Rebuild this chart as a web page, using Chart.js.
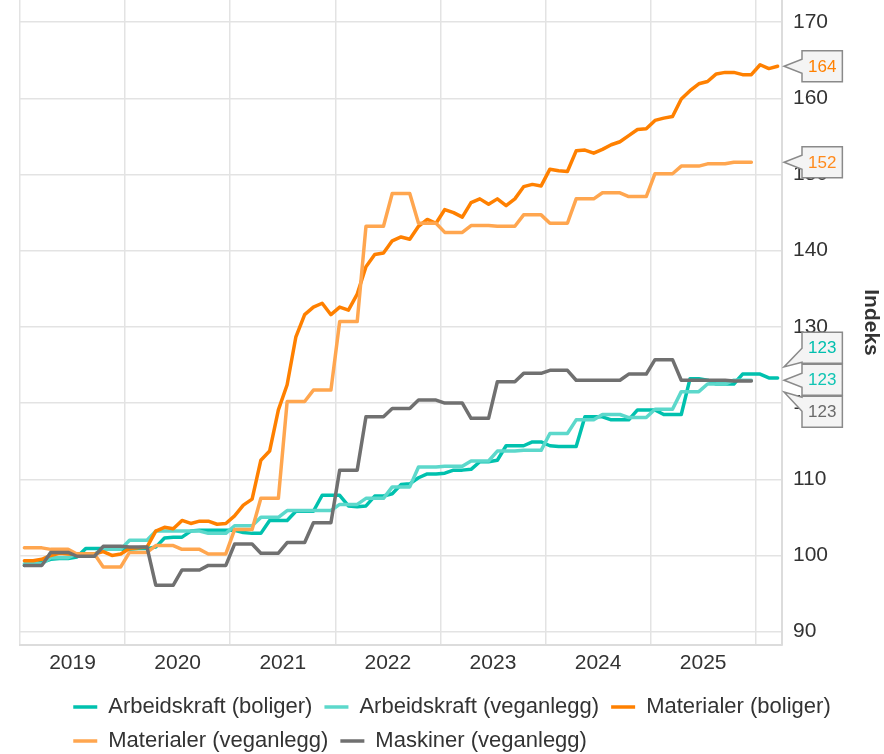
<!DOCTYPE html>
<html>
<head>
<meta charset="utf-8">
<script src="https://cdn.jsdelivr.net/npm/chart.js@4.4.1/dist/chart.umd.min.js"></script>
<style>
  html, body { margin: 0; padding: 0; background: #fff; overflow: hidden; }
</style>
</head>
<body>
<canvas id="myChart" width="884" height="754"></canvas>
<script>
// months from jan 2019, one value per month
const startYear = 2019;
const years = [2019, 2020, 2021, 2022, 2023, 2024, 2025];
const yTicks = [90, 100, 110, 120, 130, 140, 150, 160, 170];

const arbeidBoliger = [
    98.7, 98.9, 99.1, 99.5, 99.6, 99.6, 99.8, 100.9, 100.9, 100.9, 100.9, 100.8,
    100.8, 100.9, 100.9, 101.1, 102.3, 102.4, 102.4, 103.2, 103.3, 103.3, 103.3, 103.3,
    103.3, 103.0, 102.9, 102.9, 104.6, 104.6, 104.6, 105.8, 105.8, 105.8, 107.9, 107.9,
    107.9, 106.5, 106.4, 106.5, 107.8, 107.8, 108.1, 109.3, 109.4, 110.2, 110.7, 110.7,
    110.8, 111.2, 111.2, 111.3, 112.3, 112.3, 112.5, 114.4, 114.4, 114.4, 114.9, 114.9,
    114.4, 114.3, 114.3, 114.3, 118.2, 118.2, 118.2, 117.8, 117.8, 117.8, 119.1, 119.1,
    119.1, 118.5, 118.5, 118.5, 123.2, 123.2, 123.0, 122.5, 122.5, 122.5, 123.8, 123.8,
    123.8, 123.3, 123.3
];
const arbeidVeg = [
    98.9, 98.9, 98.9, 99.7, 99.7, 99.7, 100.2, 100.2, 100.2, 100.8, 100.8, 100.8,
    102.0, 102.0, 102.0, 103.2, 103.2, 103.2, 103.2, 103.2, 103.2, 102.9, 102.9, 102.9,
    103.9, 103.9, 103.9, 105.0, 105.0, 105.0, 105.9, 105.9, 105.9, 105.9, 105.9, 105.9,
    106.7, 106.7, 106.7, 107.5, 107.5, 107.5, 109.0, 109.0, 109.0, 111.6, 111.6, 111.6,
    111.7, 111.7, 111.7, 112.4, 112.4, 112.4, 113.7, 113.7, 113.7, 113.8, 113.8, 113.8,
    116.0, 116.0, 116.0, 117.8, 117.8, 117.8, 118.5, 118.5, 118.5, 118.1, 118.1, 118.1,
    119.2, 119.2, 119.2, 121.5, 121.5, 121.5, 122.5, 122.5, 122.5, 123.0, 123.0, 123.0
];
const matBoliger = [
    99.3, 99.3, 99.5, 100.0, 100.3, 100.2, 100.2, 100.2, 100.2, 100.5, 100.0, 100.2,
    100.9, 101.0, 101.1, 103.2, 103.7, 103.5, 104.6, 104.2, 104.5, 104.5, 104.1, 104.2,
    105.2, 106.6, 107.4, 112.5, 113.7, 119.1, 122.4, 128.7, 131.6, 132.6, 133.1, 131.6,
    132.6, 132.2, 134.3, 137.9, 139.5, 139.7, 141.3, 141.8, 141.5, 143.2, 144.1, 143.6,
    145.4, 145.0, 144.4, 146.3, 146.8, 146.1, 146.8, 145.9, 146.8, 148.4, 148.7, 148.5,
    150.7, 150.5, 150.4, 153.1, 153.2, 152.8, 153.3, 153.9, 154.3, 155.1, 155.9, 156.0,
    157.1, 157.4, 157.6, 159.9, 161.0, 161.9, 162.2, 163.2, 163.4, 163.4, 163.1, 163.1,
    164.4, 163.9, 164.2
];
const matVeg = [
    101.0, 101.0, 101.0, 100.8, 100.8, 100.8, 100.2, 100.2, 100.2, 98.5, 98.5, 98.5,
    100.4, 100.4, 100.4, 101.3, 101.3, 101.3, 100.8, 100.8, 100.8, 100.2, 100.2, 100.2,
    103.4, 103.4, 103.4, 107.5, 107.5, 107.5, 120.2, 120.2, 120.2, 121.7, 121.7, 121.7,
    130.7, 130.7, 130.7, 143.2, 143.2, 143.2, 147.5, 147.5, 147.5, 143.6, 143.6, 143.6,
    142.4, 142.4, 142.4, 143.3, 143.3, 143.3, 143.2, 143.2, 143.2, 144.7, 144.7, 144.7,
    143.6, 143.6, 143.6, 146.8, 146.8, 146.8, 147.6, 147.6, 147.6, 147.1, 147.1, 147.1,
    150.1, 150.1, 150.1, 151.1, 151.1, 151.1, 151.4, 151.4, 151.4, 151.6, 151.6, 151.6
];
const maskinerVeg = [
    98.7, 98.7, 98.7, 100.4, 100.4, 100.4, 99.9, 99.9, 99.9, 101.2, 101.2, 101.2,
    101.1, 101.1, 101.1, 96.1, 96.1, 96.1, 98.1, 98.1, 98.1, 98.7, 98.7, 98.7,
    101.5, 101.5, 101.5, 100.3, 100.3, 100.3, 101.7, 101.7, 101.7, 104.3, 104.3, 104.3,
    111.2, 111.2, 111.2, 118.2, 118.2, 118.2, 119.3, 119.3, 119.3, 120.4, 120.4, 120.4,
    120.0, 120.0, 120.0, 118.0, 118.0, 118.0, 122.8, 122.8, 122.8, 123.9, 123.9, 123.9,
    124.3, 124.3, 124.3, 123.0, 123.0, 123.0, 123.0, 123.0, 123.0, 123.8, 123.8, 123.8,
    125.7, 125.7, 125.7, 123.0, 123.0, 123.0, 123.0, 123.0, 123.0, 122.9, 122.9, 122.9
];

// monthly value -> point in the middle of the month
const toPoints = arr => arr.map((v, i) => ({ x: startYear + (i + 0.5) / 12, y: v }));

Chart.defaults.font.family = "'Liberation Sans', Arial, sans-serif";
Chart.defaults.color = '#333333';

// price-flag style labels at the right edge
const lastLabels = {
    id: 'lastLabels',
    afterDraw(chart) {
        const ctx = chart.ctx;
        const area = chart.chartArea;
        const yScale = chart.scales.y;
        const h = 31;
        const items = chart.data.datasets.map(ds => {
            const last = ds.data[ds.data.length - 1].y;
            return { text: String(Math.round(last)), color: ds.labelColor, anchor: yScale.getPixelForValue(last) };
        }).sort((a, b) => a.anchor - b.anchor);

        const groups = [];
        items.forEach(it => {
            const g = groups[groups.length - 1];
            if (g && it.anchor - g[g.length - 1].anchor < h) g.push(it);
            else groups.push([it]);
        });
        ctx.save();
        ctx.font = "17px 'Liberation Sans', Arial, sans-serif";
        ctx.textBaseline = 'middle';
        groups.forEach(g => {
            const mean = g.reduce((s, it) => s + it.anchor, 0) / g.length;
            g.forEach((it, k) => {
                const off = k - (g.length - 1) / 2;
                const cy = mean + off * (h + 1);
                const top = cy - h / 2, bottom = cy + h / 2;
                const left = area.right + 20;
                const w = ctx.measureText(it.text).width + 12;
                const tipX = area.right + 2;
                // spread the pointer tips a little when flags are stacked
                const tipY = it.anchor + off * 11;
                const bc = Math.min(Math.max(tipY, top + 8), bottom - 8);
                ctx.beginPath();
                ctx.moveTo(left, top);
                ctx.lineTo(left + w, top);
                ctx.lineTo(left + w, bottom);
                ctx.lineTo(left, bottom);
                ctx.lineTo(left, bc + 7);
                ctx.lineTo(tipX, tipY);
                ctx.lineTo(left, bc - 7);
                ctx.closePath();
                ctx.fillStyle = '#f4f4f4';
                ctx.fill();
                ctx.lineWidth = 1.5;
                ctx.strokeStyle = '#8a8a8a';
                ctx.stroke();
                ctx.fillStyle = it.color;
                ctx.fillText(it.text, left + 6, cy + 1);
            });
        });
        ctx.restore();
    }
};

// legend rows: second row starts under the first one, a bit lower
const legendShift = {
    id: 'legendShift',
    afterLayout(chart) {
        const lg = chart.legend;
        if (!lg) return;
        lg.top += 8;
        lg.bottom += 8;
        if (lg.lineWidths && lg.lineWidths.length > 1) lg.lineWidths[1] = lg.lineWidths[0];
    }
};

const line = (label, data, color, labelColor, order) => ({
    label: label,
    data: toPoints(data),
    borderColor: color,
    backgroundColor: color,
    labelColor: labelColor,
    borderWidth: 3.5,
    pointRadius: 0,
    pointHoverRadius: 0,
    tension: 0,
    fill: false,
    borderJoinStyle: 'round',
    borderCapStyle: 'round',
    order: order
});

const ctx = document.getElementById('myChart').getContext('2d');
new Chart(ctx, {
    type: 'line',
    data: {
        datasets: [
            line('Arbeidskraft (boliger)', arbeidBoliger, '#00c1ae', '#00bfae', 5),
            line('Arbeidskraft (veganlegg)', arbeidVeg, '#5cd8cb', '#10c4b3', 4),
            line('Materialer (boliger)', matBoliger, '#ff8000', '#ff8000', 3),
            line('Materialer (veganlegg)', matVeg, '#ffa64f', '#ff8a1c', 2),
            line('Maskiner (veganlegg)', maskinerVeg, '#707070', '#6a6a6a', 1)
        ]
    },
    options: {
        responsive: false,
        animation: false,
        events: [],
        layout: { padding: { left: 20, top: 0, right: 0, bottom: 0 } },
        scales: {
            x: {
                type: 'linear',
                bounds: 'data',
                min: 2019,
                max: 2026.25,
                afterBuildTicks: s => {
                    const t = [];
                    years.forEach(y => { t.push({ value: y }); t.push({ value: y + 0.5 }); });
                    t.push({ value: 2026 });
                    s.ticks = t;
                },
                afterFit: s => { s.height = 31; s.paddingLeft = 0; s.paddingRight = 0; },
                ticks: {
                    autoSkip: false,
                    maxRotation: 0,
                    padding: 6,
                    font: { size: 21 },
                    color: '#333333',
                    callback: v => (v % 1 === 0.5 ? String(Math.floor(v)) : '')
                },
                grid: {
                    drawTicks: false,
                    color: c => (c.tick && c.tick.value % 1 === 0 ? '#e3e3e3' : 'rgba(0,0,0,0)'),
                    lineWidth: 1.5
                },
                border: { display: true, color: '#dcdcdc', width: 2 }
            },
            y: {
                position: 'right',
                min: 88.25,
                max: 172.9,
                afterBuildTicks: s => { s.ticks = yTicks.map(v => ({ value: v })); },
                afterFit: s => { s.width = 102; s.paddingTop = 0; s.paddingBottom = 0; },
                ticks: {
                    padding: 11,
                    font: { size: 21 },
                    color: '#333333'
                },
                grid: { drawTicks: false, color: '#e3e3e3', lineWidth: 1.5 },
                border: { display: true, color: '#dcdcdc', width: 2 },
                title: {
                    display: true,
                    text: 'Indeks',
                    color: '#333333',
                    font: { size: 21, weight: 'bold' },
                    padding: { top: 1, bottom: 0 }
                }
            }
        },
        plugins: {
            tooltip: { enabled: false },
            legend: {
                position: 'bottom',
                labels: {
                    usePointStyle: true,
                    pointStyle: 'line',
                    pointStyleWidth: 24,
                    padding: 12,
                    color: '#333333',
                    font: { size: 22 },
                    sort: (a, b) => a.datasetIndex - b.datasetIndex
                }
            }
        }
    },
    plugins: [lastLabels, legendShift]
});
</script>
</body>
</html>
